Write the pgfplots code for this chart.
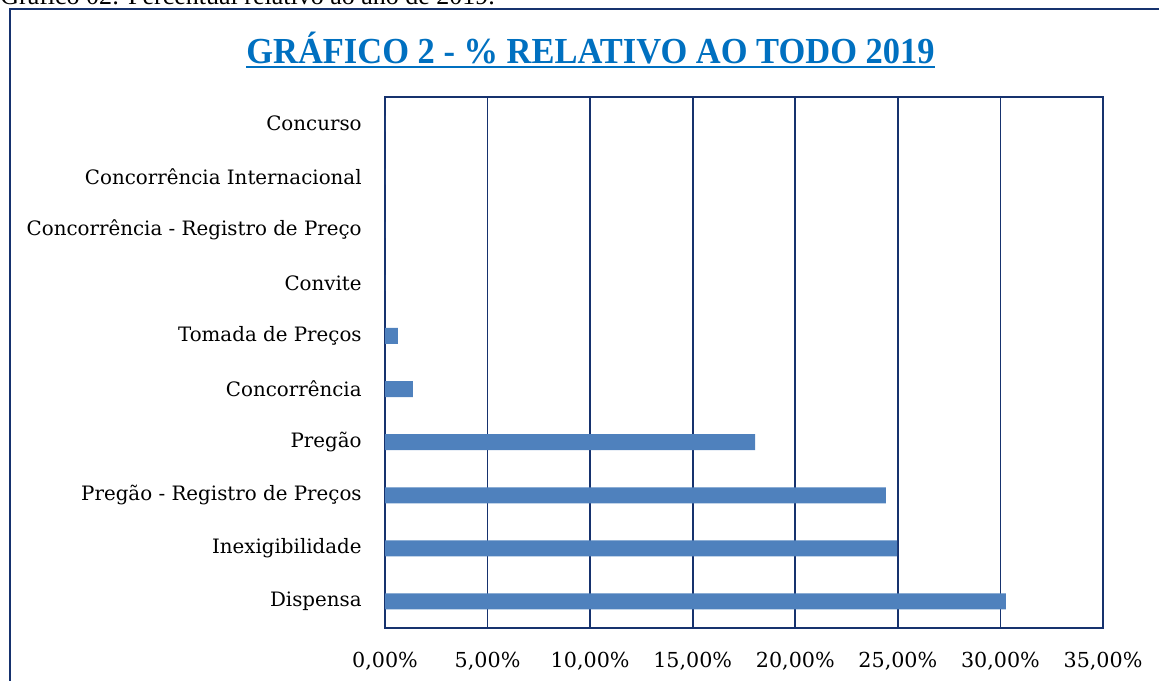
\documentclass[border=0pt]{standalone}
\usepackage{fontspec}
\setmainfont{DejaVu Serif}
\newfontfamily\timesf{Liberation Serif}
\usepackage{pgfplots}
\pgfplotsset{compat=1.18}
\definecolor{navy}{RGB}{22,50,110}
\definecolor{barblue}{RGB}{79,129,189}
\definecolor{titleblue}{RGB}{0,112,192}
\begin{document}
\begin{tikzpicture}
\path[use as bounding box] (0,0) rectangle (695.4pt,-408pt);
\node[anchor=base west, inner sep=0, font=\timesf\fontsize{15.6}{18}\selectfont] at (0,-2.4pt) {Gráfico 02: Percentual relativo ao ano de 2019.};
\draw[navy, line width=1.2pt] (6pt,-5.4pt) rectangle (696pt,-420pt);
\node[anchor=base, inner sep=0, xscale=0.94, text=titleblue, font=\timesf\bfseries\fontsize{22}{24}\selectfont] (t) at (354.3pt,-37.8pt) {GRÁFICO 2 - \% RELATIVO AO TODO 2019};
\draw[titleblue, line width=1.3pt] ([yshift=-2.4pt]t.base west) -- ([yshift=-2.4pt]t.base east);
\begin{axis}[at={(231pt,-376.8pt)}, anchor=south west, scale only axis,
  width=430.8pt, height=318.6pt,
  xbar, bar width=9.6pt,
  xmin=0, xmax=0.35, ymin=-0.5, ymax=9.5,
  ytick={0,1,2,3,4,5,6,7,8,9},
  yticklabels={Dispensa, Inexigibilidade, Pregão - Registro de Preços\hspace{3pt}, Pregão\hspace{3pt}, Concorrência\hspace{3pt}, Tomada de Preços, Convite, Concorrência - Registro de Preço, Concorrência Internacional\hspace{3pt}, Concurso},
  xtick={0,0.05,0.1,0.15,0.2,0.25,0.3,0.35},
  xticklabels={{0,00\%},{5,00\%},{10,00\%},{15,00\%},{20,00\%},{25,00\%},{30,00\%},{35,00\%}},
  xmajorgrids, grid style={navy, line width=1pt},
  axis line style={navy, line width=1pt},
  major tick length=0pt,
  yticklabel style={font=\fontsize{11.9}{13}\selectfont, inner sep=0pt},
  xticklabel style={font=\fontsize{12.4}{14}\selectfont, inner sep=0pt},
  yticklabel shift=13.8pt,
  xticklabel shift=14.4pt,
]
\addplot[fill=barblue, draw=none] coordinates {(0.3027,0) (0.2496,1) (0.2442,2) (0.1804,3) (0.0136,4) (0.0063,5) (0,6) (0,7) (0,8) (0,9)};
\end{axis}
\end{tikzpicture}
\end{document}
